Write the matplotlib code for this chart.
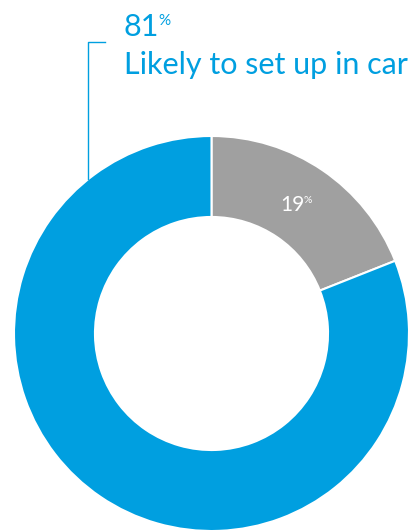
import matplotlib
matplotlib.use("Agg")
import matplotlib.pyplot as plt

etiquetas = ["No", "Likely to set up in car"]
valores = [19, 81]
colores = ["#a0a0a0", "#009fe0"]

W, H = 417, 532
plt.rcParams['font.family'] = ['Lato', 'DejaVu Sans']

fig = plt.figure(figsize=(W / 100, H / 100), dpi=100)
ax = fig.add_axes([0, 0, 1, 1])

cx, cy, r = 211.5, H - 333.5, 197.5
ax.pie(valores, colors=colores, startangle=90, counterclock=False,
       center=(cx, cy), radius=r, frame=True,
       wedgeprops=dict(width=r * 0.41, edgecolor="white", linewidth=1.5))
ax.set_xlim(0, W)
ax.set_ylim(0, H)
ax.axis("off")

# linea guia
ax.plot([105, 88.5, 88.5], [H - 42, H - 42, H - 179], color="#009fe0", lw=1)

fig.canvas.draw()
ren = fig.canvas.get_renderer()


def porcentaje(x, y, num, size, color):
    t = ax.text(x, y, num, fontsize=size, color=color,
                va="baseline", ha="left")
    bb = t.get_window_extent(ren)
    ax.text(bb.x1 - 0.5, bb.y1 - 1, "%", fontsize=size * 0.5, color=color,
            va="top", ha="left")


porcentaje(124, H - 36, str(valores[1]), 22, colores[1])
ax.text(124, H - 74, etiquetas[1], fontsize=22, color=colores[1],
        va="baseline", ha="left")
porcentaje(280, H - 211, str(valores[0]), 15, "white")

fig.savefig("out.png", dpi=100)
